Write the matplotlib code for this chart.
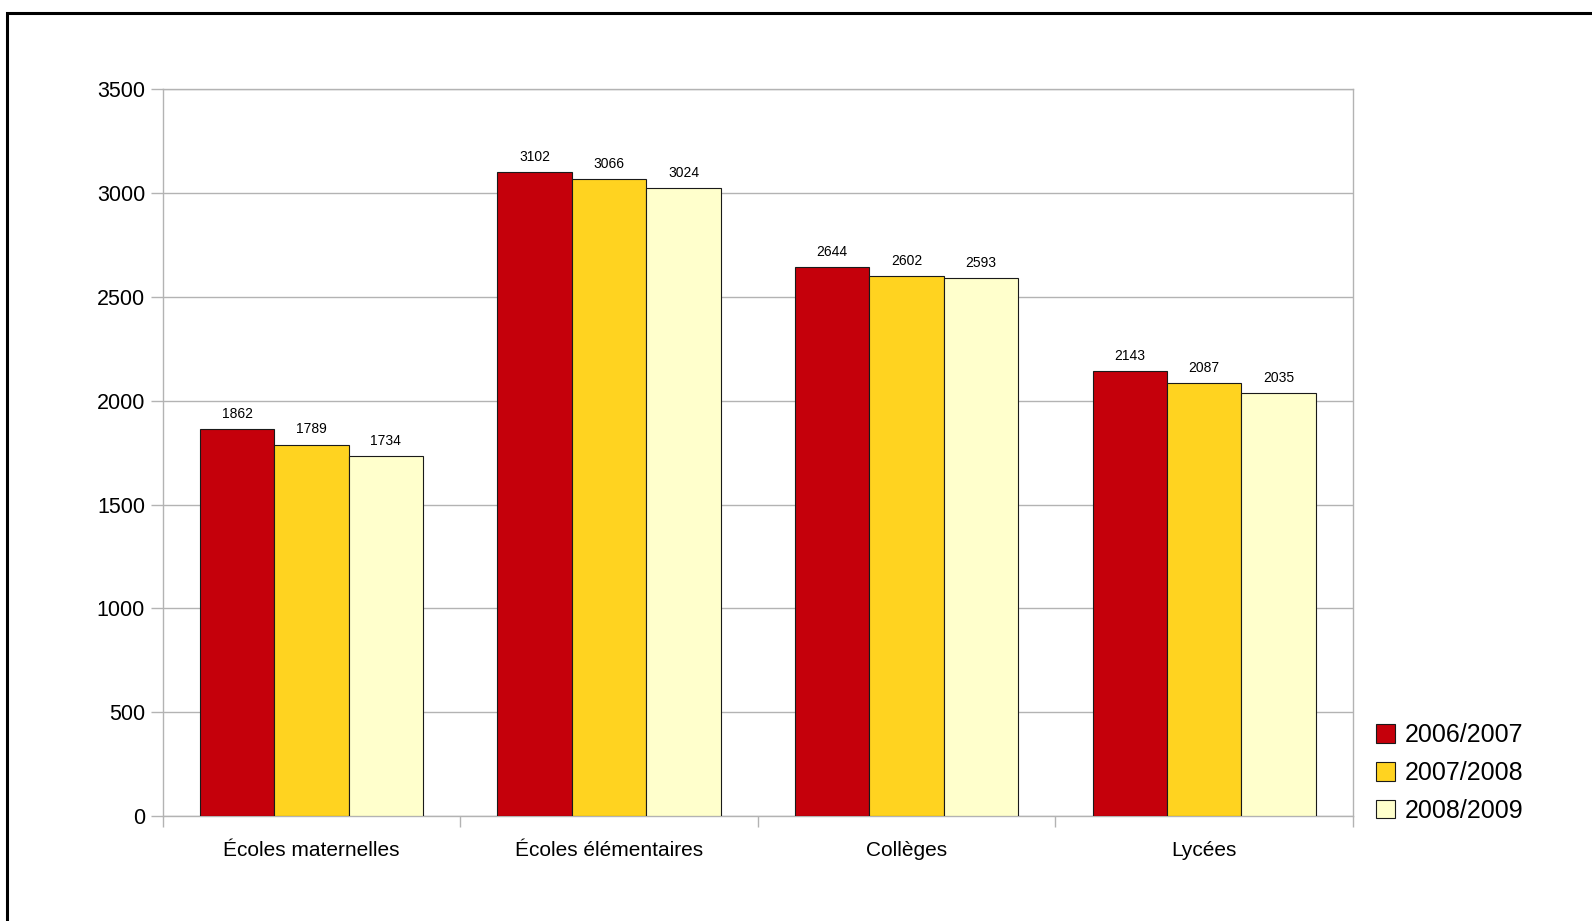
import numpy as np
import matplotlib.pyplot as plt
from matplotlib.patches import Rectangle

plt.rcParams['font.family'] = ['Liberation Sans', 'DejaVu Sans']

# effectifs par type d'etablissement et par annee scolaire
categories = ['Écoles maternelles', 'Écoles élémentaires', 'Collèges', 'Lycées']
annees = ['2006/2007', '2007/2008', '2008/2009']
v_2006 = [1862, 3102, 2644, 2143]
v_2007 = [1789, 3066, 2602, 2087]
v_2008 = [1734, 3024, 2593, 2035]
couleurs = ['#C5000B', '#FFD320', '#FFFFCC']

grey = '#b3b3b3'

fig = plt.figure(figsize=(15.92, 9.21), dpi=100)
ax = fig.add_axes([0.1022, 0.114, 0.7477, 0.789])

# cadre noir autour du graphique
fig.patches.append(Rectangle((7.5 / 1592, -0.2), 1.5, 1.2 - 12.5 / 921,
                             transform=fig.transFigure, fill=False,
                             edgecolor='black', linewidth=2.2, clip_on=False))

x = np.arange(len(categories))
w = 0.25
for i, (vals, lab, col) in enumerate(zip([v_2006, v_2007, v_2008], annees, couleurs)):
    pos = x + (i - 1) * w
    ax.bar(pos, vals, width=w, color=col, edgecolor='#1a1a1a',
           linewidth=0.8, label=lab, zorder=3)
    for px, v in zip(pos, vals):
        ax.annotate(str(v), (px, v), xytext=(0, 8), textcoords='offset points',
                    ha='center', va='baseline', fontsize=10)

ax.set_xlim(-0.5, len(categories) - 0.5)
ax.set_ylim(0, 3500)
ax.set_yticks(np.arange(0, 3501, 500))
ax.yaxis.grid(True, color=grey, linewidth=1, zorder=0)
ax.tick_params(axis='y', length=8.4, width=1, color=grey, pad=4.3, labelsize=15.5)

ax.set_xticks(x)
ax.set_xticklabels(categories)
ax.set_xticks(np.arange(-0.5, len(categories)), minor=True)
ax.tick_params(axis='x', which='major', length=0, pad=18, labelsize=15)
ax.tick_params(axis='x', which='minor', length=8, width=1, color=grey)

for s in ax.spines.values():
    s.set_color(grey)
    s.set_linewidth(1)

ax.legend(loc='center left', bbox_to_anchor=(1376 / 1592, 1 - 773 / 921),
          bbox_transform=fig.transFigure, frameon=False, fontsize=18,
          handlelength=0.76, handleheight=0.76, handletextpad=0.4,
          labelspacing=0.55, borderpad=0, borderaxespad=0)

fig.savefig('out.png', dpi=100)
